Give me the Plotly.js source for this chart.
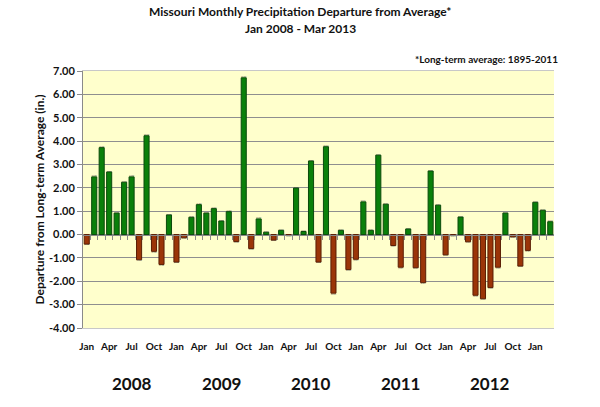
<!DOCTYPE html>
<html>
<head>
<meta charset="utf-8">
<script src="https://cdn.plot.ly/plotly-3.0.1.min.js"></script>
<style>
  html, body { margin: 0; padding: 0; background: #fff; }
  #chart { width: 600px; height: 407px; }
</style>
</head>
<body>
<div id="chart"></div>
<script>
// Monthly precipitation departure from the long-term average (inches), Jan 2008 - Mar 2013
const months = ['Jan','Feb','Mar','Apr','May','Jun','Jul','Aug','Sep','Oct','Nov','Dec'];
const years = [2008, 2009, 2010, 2011, 2012, 2013];

const dep2008 = [-0.41, 2.47, 3.72, 2.68, 0.92, 2.24, 2.47, -1.08, 4.23, -0.72, -1.28, 0.84];
const dep2009 = [-1.18, -0.14, 0.74, 1.28, 0.92, 1.11, 0.58, 0.98, -0.30, 6.71, -0.60, 0.67];
const dep2010 = [0.10, -0.24, 0.18, -0.03, 1.99, 0.13, 3.15, -1.18, 3.76, -2.51, 0.18, -1.50];
const dep2011 = [-1.06, 1.40, 0.18, 3.40, 1.30, -0.47, -1.40, 0.24, -1.42, -2.06, 2.72, 1.26];
const dep2012 = [-0.87, -0.04, 0.75, -0.31, -2.60, -2.75, -2.27, -1.40, 0.92, -0.10, -1.35, -0.68];
const dep2013 = [1.38, 1.04, 0.55];

const yTicks = [-4, -3, -2, -1, 0, 1, 2, 3, 4, 5, 6, 7];
const monthTickNames = ['Jan', 'Apr', 'Jul', 'Oct'];
const yearLabels = ['2008', '2009', '2010', '2011', '2012'];

// Flatten into one monthly series
const series = [dep2008, dep2009, dep2010, dep2011, dep2012, dep2013];
const values = [];
const labels = [];
series.forEach((arr, yi) => arr.forEach((v, mi) => {
  values.push(v);
  labels.push(months[mi] + ' ' + years[yi]);
}));
const idx = values.map((_, i) => i);
const xRange = [-0.5, values.length - 0.5];
const yRange = [yTicks[0], yTicks[yTicks.length - 1]];

const FONT = 'Lato, "Open Sans", "DejaVu Sans", sans-serif';
const GREEN = '#0a800a', GREEN_EDGE = '#0b4a0b';
const BROWN = '#9b3508', BROWN_EDGE = '#5a1e04';

const bars = {
  type: 'bar',
  x: idx,
  y: values,
  text: labels,
  hovertemplate: '%{text}: %{y:.2f} in.<extra></extra>',
  marker: {
    color: values.map(v => v >= 0 ? GREEN : BROWN),
    line: { color: values.map(v => v >= 0 ? GREEN_EDGE : BROWN_EDGE), width: 1 }
  }
};

// Month tick labels every quarter along the bottom
const monthTickVals = idx.filter(i => i % 3 === 0);
const monthTickText = monthTickVals.map(i => monthTickNames[(i % 12) / 3]);

// Boundary tick marks riding on the zero line
const boundaryVals = idx.slice(0, -1).map(i => i + 0.5);
const zeroPos = (0 - yRange[0]) / (yRange[1] - yRange[0]);

const yearAnnotations = yearLabels.map((y, k) => ({
  x: 12 * k + 6, xref: 'x',
  y: -0.215, yref: 'paper',
  text: '<b>' + y + '</b>',
  showarrow: false,
  xanchor: 'center', yanchor: 'middle',
  font: { family: FONT, size: 17, color: '#111' }
}));

const titleLines = [
  { text: '<b>Missouri Monthly Precipitation Departure from Average*</b>', y: 1.23 },
  { text: '<b>Jan 2008 - Mar 2013</b>', y: 1.167 }
].map(t => ({
  x: 0.5 + (300 - (83 + 471 / 2)) / 471, xref: 'paper', xanchor: 'center',
  y: t.y, yref: 'paper', yanchor: 'middle',
  text: t.text, showarrow: false,
  font: { family: FONT, size: 12, color: '#111' }
}));

const layout = {
  width: 600, height: 407,
  margin: { l: 83, r: 46, t: 71, b: 79 },
  paper_bgcolor: '#ffffff',
  plot_bgcolor: '#ffffcc',
  showlegend: false,
  bargap: 0.32,
  xaxis: {
    range: xRange,
    tickmode: 'array', tickvals: monthTickVals, ticktext: monthTickText,
    ticks: '', showgrid: false, zeroline: false,
    ticklabelstandoff: 9,
    showline: true, linecolor: '#c8c8c8', linewidth: 1, mirror: true,
    tickfont: { family: FONT, size: 10, color: '#111', weight: 'bold' },
    fixedrange: true
  },
  xaxis2: {
    overlaying: 'x', anchor: 'free', position: zeroPos,
    range: xRange,
    tickmode: 'array', tickvals: boundaryVals,
    ticks: 'outside', ticklen: 4, tickcolor: '#8a8a8a', tickwidth: 1,
    showticklabels: false, showgrid: false, zeroline: false,
    showline: true, linecolor: '#8a8a8a', linewidth: 1
  },
  yaxis: {
    range: yRange,
    tickmode: 'array', tickvals: yTicks, ticktext: yTicks.map(v => v.toFixed(2)),
    ticks: 'outside', ticklen: 5, tickcolor: '#8a8a8a',
    showgrid: true, gridcolor: '#8f8f8f', gridwidth: 1,
    zeroline: false,
    showline: true, linecolor: '#8a8a8a', linewidth: 1,
    tickfont: { family: FONT, size: 11, color: '#111', weight: 'bold' },
    title: {
      text: '<b>Departure from Long-term Average (in.)</b>',
      font: { family: FONT, size: 12, color: '#111' },
      standoff: 1
    },
    fixedrange: true
  },
  annotations: titleLines.concat([
    {
      x: 1.013, xref: 'paper', xanchor: 'right',
      y: 1.045, yref: 'paper', yanchor: 'middle',
      text: '<b>*Long-term average: 1895-2011</b>',
      showarrow: false,
      font: { family: FONT, size: 10, color: '#111' }
    }
  ]).concat(yearAnnotations)
};

// Empty trace so the zero-line axis is laid out
const zeroAxisTrace = { type: 'scatter', x: [], y: [], xaxis: 'x2', yaxis: 'y', hoverinfo: 'skip' };

Plotly.newPlot('chart', [bars, zeroAxisTrace], layout, { displayModeBar: false, staticPlot: true });
</script>
</body>
</html>
